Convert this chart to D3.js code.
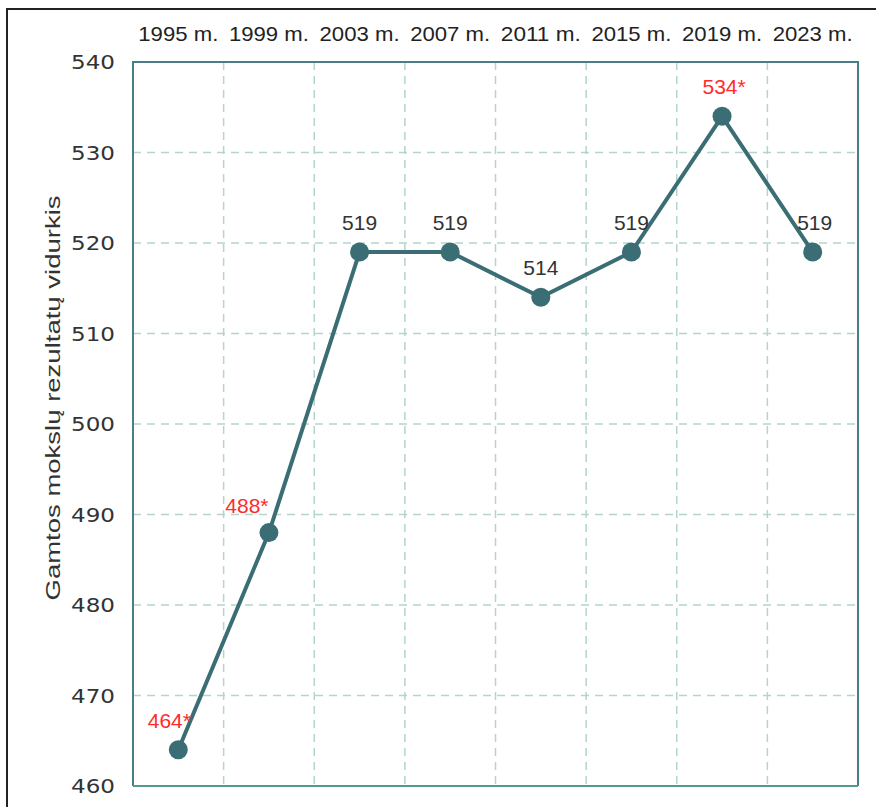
<!DOCTYPE html>
<html>
<head>
<meta charset="utf-8">
<script src="https://cdn.jsdelivr.net/npm/d3@7"></script>
<style>
  body { margin: 0; background: #fff; }
  svg { display: block; font-family: "Liberation Sans", Arial, sans-serif; }
</style>
</head>
<body>
<svg width="876" height="807"></svg>
<script>
// data
const years = ["1995 m.", "1999 m.", "2003 m.", "2007 m.", "2011 m.", "2015 m.", "2019 m.", "2023 m."];
const scores = [464, 488, 519, 519, 514, 519, 534, 519];
const significant = [true, true, false, false, false, false, true, false]; // red, with *
const yTicks = [460, 470, 480, 490, 500, 510, 520, 530, 540];

// label nudges (layout only)
const labelDx = [-9, -22, 0, 0, 0, 0, 2, 2];

const svg = d3.select("svg");
const margin = { top: 62, right: 18, bottom: 21, left: 133 };
const width = 876, height = 807;

const lineColor = "#3b6d75";
const gridColor = "#b3d5cd";

// outer frame (runs off the picture on right/bottom)
svg.append("rect")
    .attr("x", 7).attr("y", 9)
    .attr("width", 900).attr("height", 900)
    .attr("fill", "none")
    .attr("stroke", "#222")
    .attr("stroke-width", 2);

const x = d3.scaleBand()
    .domain(years)
    .range([margin.left, width - margin.right]);

const y = d3.scaleLinear()
    .domain([460, 540])
    .range([height - margin.bottom, margin.top]);

// horizontal grid
svg.append("g")
    .selectAll("line")
    .data(yTicks.slice(1, -1))
    .join("line")
    .attr("x1", margin.left).attr("x2", width - margin.right)
    .attr("y1", d => y(d)).attr("y2", d => y(d))
    .attr("stroke", gridColor)
    .attr("stroke-width", 1.5)
    .attr("stroke-dasharray", "8,6");

// vertical grid at band edges
svg.append("g")
    .selectAll("line")
    .data(years.slice(1))
    .join("line")
    .attr("x1", d => x(d)).attr("x2", d => x(d))
    .attr("y1", margin.top).attr("y2", height - margin.bottom)
    .attr("stroke", gridColor)
    .attr("stroke-width", 1.5)
    .attr("stroke-dasharray", "8,6");

// plot frame
const x0 = margin.left, x1 = width - margin.right;
const y0 = margin.top, y1 = height - margin.bottom;
svg.append("path")
    .attr("d", `M${x0},${y1}V${y0}H${x1}V${y1}`)
    .attr("fill", "none")
    .attr("stroke", "#4a7e86")
    .attr("stroke-width", 2);
svg.append("line")
    .attr("x1", x0).attr("x2", x1)
    .attr("y1", y1).attr("y2", y1)
    .attr("stroke", "#4f9b8d")
    .attr("stroke-width", 2);

// y axis
const yAxis = svg.append("g")
    .attr("transform", `translate(${margin.left - 18},0)`)
    .call(d3.axisLeft(y).tickValues(yTicks).tickSize(0).tickPadding(0));
yAxis.select(".domain").remove();
yAxis.selectAll("text")
    .attr("font-family", "'DejaVu Sans', sans-serif")
    .attr("font-size", 19)
    .attr("fill", "#333")
    .attr("dy", "0.36em")
    .attr("textLength", 44)
    .attr("lengthAdjust", "spacingAndGlyphs");

// top category labels
const xAxis = svg.append("g")
    .attr("transform", `translate(0,${margin.top})`)
    .call(d3.axisTop(x).tickSize(0).tickPadding(21));
xAxis.select(".domain").remove();
xAxis.selectAll("text")
    .attr("font-family", "'Liberation Sans', Arial, sans-serif")
    .attr("font-size", 21)
    .attr("fill", "#222")
    .attr("dy", 0)
    .attr("textLength", 80)
    .attr("lengthAdjust", "spacingAndGlyphs");

// y title
svg.append("text")
    .attr("transform", `translate(60,${(y0 + y1) / 2 - 26}) rotate(-90)`)
    .attr("text-anchor", "middle")
    .attr("font-size", 20)
    .attr("fill", "#333")
    .attr("textLength", 405)
    .attr("lengthAdjust", "spacingAndGlyphs")
    .text("Gamtos mokslų rezultatų vidurkis");

const cx = (d, i) => x(years[i]) + x.bandwidth() / 2;

// line
svg.append("path")
    .datum(scores)
    .attr("d", d3.line().x(cx).y(d => y(d)))
    .attr("fill", "none")
    .attr("stroke", lineColor)
    .attr("stroke-width", 4);

// points
svg.append("g")
    .selectAll("circle")
    .data(scores)
    .join("circle")
    .attr("cx", cx)
    .attr("cy", d => y(d))
    .attr("r", 9.5)
    .attr("fill", lineColor);

// value labels
svg.append("g")
    .selectAll("text")
    .data(scores)
    .join("text")
    .attr("x", (d, i) => cx(d, i) + labelDx[i])
    .attr("y", (d, i) => y(d) - (i === 1 ? 20 : 22))
    .attr("text-anchor", "middle")
    .attr("font-size", 21)
    .attr("fill", (d, i) => significant[i] ? "#ff2b2b" : "#333")
    .text((d, i) => significant[i] ? d + "*" : d);
</script>
</body>
</html>
